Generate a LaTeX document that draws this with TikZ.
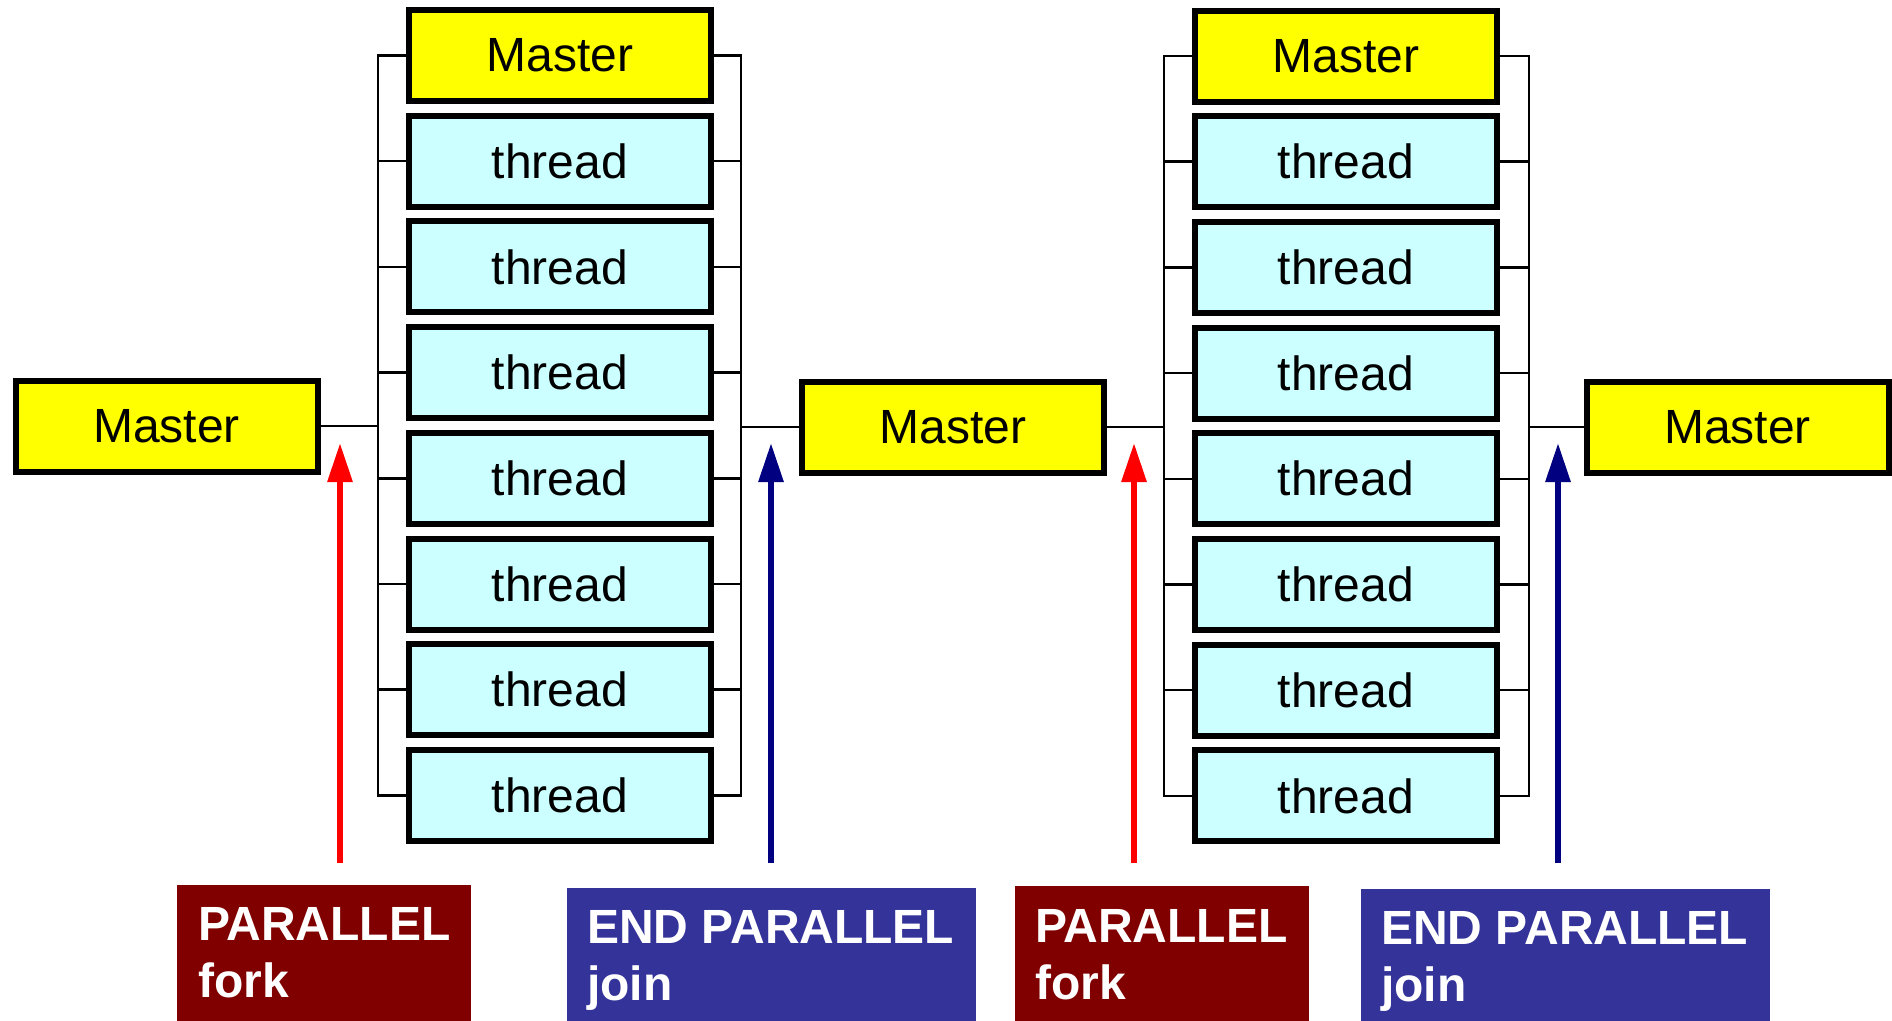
\documentclass[tikz,border=0pt]{standalone}
\usepackage{fontspec}
\setmainfont{Liberation Sans}
\usetikzlibrary{arrows.meta}
\definecolor{myyellow}{HTML}{FFFF00}
\definecolor{mycyan}{HTML}{CCFFFF}
\definecolor{forkred}{HTML}{800000}
\definecolor{joinblue}{HTML}{333399}
\definecolor{arrred}{HTML}{FF0000}
\definecolor{arrblue}{HTML}{000080}
\begin{document}
\begin{tikzpicture}[x=1pt,y=-1pt,
  box/.style={draw=black, line width=6pt, minimum width=302pt, minimum height=91pt, inner sep=0pt, font=\fontsize{48}{56}\selectfont},
  master/.style={box, fill=myyellow},
  thr/.style={box, fill=mycyan},
  wire/.style={line width=2.5pt, draw=black, line join=miter},
  forkarrow/.style={line width=6pt, draw=arrred, -{Triangle[length=39pt,width=24pt]}},
  joinarrow/.style={line width=6pt, draw=arrblue, -{Triangle[length=39pt,width=24pt]}},
  forkbox/.style={fill=forkred, draw=none, anchor=north west, minimum width=294pt, minimum height=150pt, inner sep=0pt},
  joinbox/.style={fill=joinblue, draw=none, anchor=north west, minimum width=409pt, minimum height=150pt, inner sep=0pt},
  lbl/.style={anchor=north west, inner sep=0pt, align=left, text=white, font=\bfseries\fontsize{48}{57}\selectfont}
]
\useasboundingbox (0,0) rectangle (1892,1020);
\clip (0,0) rectangle (1892,1020);

% single masters
\node[master] (m1) at (166.5,426) {Master};
\node[master] (m2) at (953,427) {Master};
\node[master] (m3) at (1737.5,427) {Master};

% column A
\node[master] (a1) at (560,55.5) {Master};
\foreach \i/\y in {2/161.2,3/266.9,4/372.6,5/478.3,6/584.0,7/689.7,8/795.4}
  \node[thr] (a\i) at (560,\y) {thread};
% column B
\node[master] (b1) at (1346,56) {Master};
\foreach \i/\y in {2/161.7,3/267.4,4/373.1,5/478.8,6/584.5,7/690.2,8/795.9}
  \node[thr] (b\i) at (1346,\y) {thread};

\coordinate (LA) at (378,0);
\coordinate (RA) at (741,0);
\coordinate (LB) at (1164,0);
\coordinate (RB) at (1529,0);

% brackets column A
\draw[wire] (a1.west) -- (a1.west -| LA) -- (a8.west -| LA) -- (a8.west);
\draw[wire] (a1.east) -- (a1.east -| RA) -- (a8.east -| RA) -- (a8.east);
\foreach \i in {2,...,7} {
  \draw[wire] (a\i.west -| LA) -- (a\i.west);
  \draw[wire] (a\i.east) -- (a\i.east -| RA);
}
% brackets column B
\draw[wire] (b1.west) -- (b1.west -| LB) -- (b8.west -| LB) -- (b8.west);
\draw[wire] (b1.east) -- (b1.east -| RB) -- (b8.east -| RB) -- (b8.east);
\foreach \i in {2,...,7} {
  \draw[wire] (b\i.west -| LB) -- (b\i.west);
  \draw[wire] (b\i.east) -- (b\i.east -| RB);
}
% master links
\draw[wire] (m1.east) -- (m1.east -| LA);
\draw[wire] (m2.west -| RA) -- (m2.west);
\draw[wire] (m2.east) -- (m2.east -| LB);
\draw[wire] (m3.west -| RB) -- (m3.west);

% arrows
\coordinate (f1s) at (340,863); \coordinate (f1e) at (340,443);
\coordinate (j1s) at (771,863); \coordinate (j1e) at (771,443);
\coordinate (f2s) at (1134,863); \coordinate (f2e) at (1134,443);
\coordinate (j2s) at (1558,863); \coordinate (j2e) at (1558,443);
\draw[forkarrow] (f1s) -- (f1e);
\draw[joinarrow] (j1s) -- (j1e);
\draw[forkarrow] (f2s) -- (f2e);
\draw[joinarrow] (j2s) -- (j2e);

% labels
\node[forkbox] (p1) at (177,885) {};
\node[lbl] (p1t) at (198,907) {PARALLEL\\fork};
\node[joinbox] (e1) at (567,888) {};
\node[lbl] (e1t) at (587,910) {END PARALLEL\\join};
\node[forkbox] (p2) at (1015,886) {};
\node[lbl] (p2t) at (1035,909) {PARALLEL\\fork};
\node[joinbox] (e2) at (1361,889) {};
\node[lbl] (e2t) at (1381,911) {END PARALLEL\\join};
\end{tikzpicture}
\end{document}
